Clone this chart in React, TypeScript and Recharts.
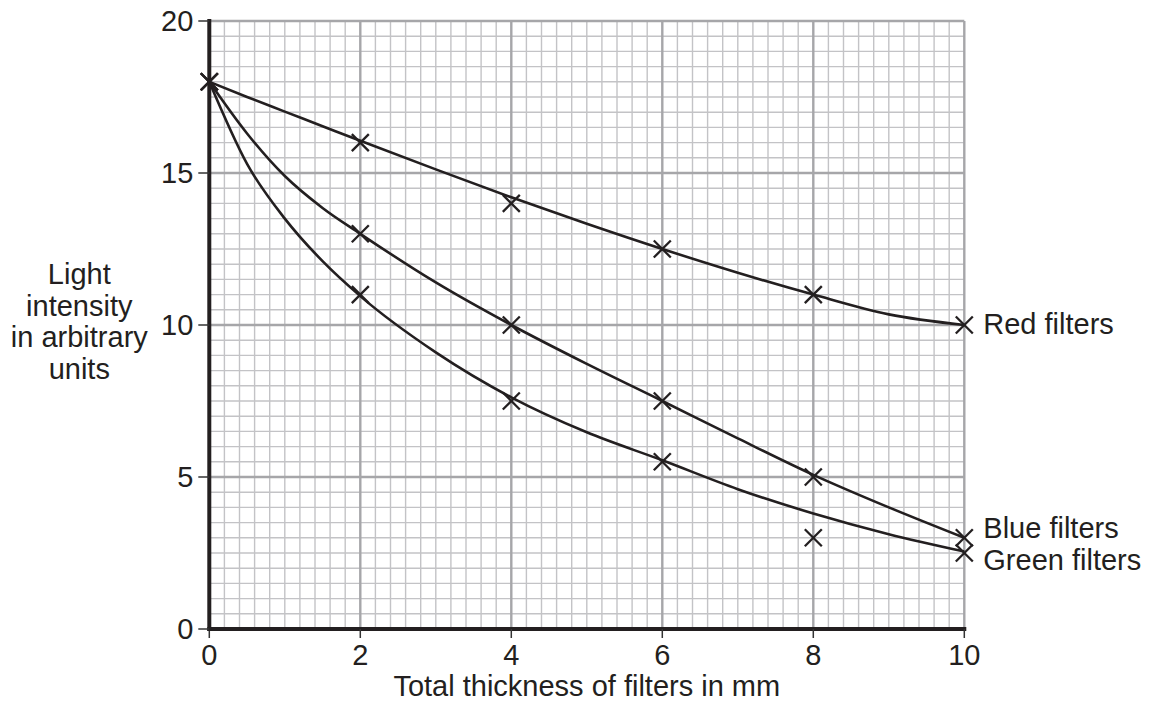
import React from 'react';
import { ComposedChart, Line, Scatter, XAxis, YAxis, ReferenceLine, ReferenceDot, Label } from 'recharts';

// Measured points (crosses)
const thicknessMm = [0, 2, 4, 6, 8, 10];
const redMeasured = [18, 16, 14, 12.5, 11, 10];
const blueMeasured = [18, 13, 10, 7.5, 5, 3];
const greenMeasured = [18, 11, 7.5, 5.5, 3, 2.5];

// Hand-drawn best-fit curves
const curveX = [0, 0.5, 1, 1.5, 2, 3, 4, 5, 6, 7, 8, 9, 10];
const redCurve = [18, 17.5, 17.02, 16.54, 16.06, 15.12, 14.2, 13.33, 12.5, 11.72, 11.0, 10.35, 10.0];
const blueCurve = [18, 16.3, 14.9, 13.85, 13.0, 11.4, 10.0, 8.72, 7.5, 6.27, 5.07, 4.0, 3.0];
const greenCurve = [18, 15.3, 13.5, 12.1, 10.95, 9.1, 7.62, 6.47, 5.55, 4.6, 3.8, 3.12, 2.55];

const xTicks = [0, 2, 4, 6, 8, 10];
const yTicks = [0, 5, 10, 15, 20];
const seriesLabels = ['Red filters', 'Blue filters', 'Green filters'];
const yTitleLines = ['Light', 'intensity', 'in arbitrary', 'units'];
const xTitle = 'Total thickness of filters in mm';

// grid positions (graph paper)
const minorX = Array.from({ length: 51 }, (_, i) => Math.round(i * 2) / 10).filter((v) => !xTicks.includes(v));
const minorY = Array.from({ length: 41 }, (_, i) => i / 2).filter((v) => !yTicks.includes(v));

const toPts = (xs: number[], ys: number[]) => xs.map((x, i) => ({ x, y: ys[i] }));

const redPts = toPts(thicknessMm, redMeasured);
const bluePts = toPts(thicknessMm, blueMeasured);
const greenPts = toPts(thicknessMm, greenMeasured);
const redLine = toPts(curveX, redCurve);
const blueLine = toPts(curveX, blueCurve);
const greenLine = toPts(curveX, greenCurve);

const INK = '#231f20';
const FONT = '"Liberation Sans", Arial, Helvetica, sans-serif';
const FS = 29;

const Cross = (props: any) => {
  const { cx, cy } = props;
  if (cx == null || cy == null) return null;
  const a = 8.5;
  return (
    <g>
      <line x1={cx - a} y1={cy - a} x2={cx + a} y2={cy + a} stroke={INK} strokeWidth={2.3} />
      <line x1={cx - a} y1={cy + a} x2={cx + a} y2={cy - a} stroke={INK} strokeWidth={2.3} />
    </g>
  );
};

const endLabel = (text: string, dy: number) => (props: any) => {
  const vb = props.viewBox || {};
  const x = (vb.x ?? 0) + (vb.width ?? 0) / 2 + 19;
  const y = (vb.y ?? 0) + (vb.height ?? 0) / 2 + dy;
  return (
    <text x={x} y={y} fill={INK} fontSize={FS} fontFamily={FONT} textAnchor="start">
      {text}
    </text>
  );
};

const YTitle = (props: any) => {
  const vb = props.viewBox || {};
  const cx = vb.x - 70;
  const cy = vb.y + vb.height / 2;
  return (
    <text fill={INK} fontSize={FS} fontFamily={FONT} textAnchor="middle">
      {yTitleLines.map((t, i) => (
        <tspan key={t} x={cx} y={cy - 41 + i * 31.7}>
          {t}
        </tspan>
      ))}
    </text>
  );
};

const XTitle = (props: any) => {
  const vb = props.viewBox || {};
  return (
    <text x={vb.x + vb.width / 2} y={vb.y + 67} fill={INK} fontSize={FS} fontFamily={FONT} textAnchor="middle">
      {xTitle}
    </text>
  );
};

export default function App() {
  const tickStyle = { fill: INK, fontSize: FS, fontFamily: FONT };
  return (
    <div style={{ position: 'absolute', left: 0, top: 0 }}>
      <ComposedChart
        width={1150}
        height={704}
        margin={{ top: 21, right: 185.7, bottom: 15, left: 149.3 }}
      >
        {minorX.map((v) => (
          <ReferenceLine key={'mx' + v} x={v} stroke="#c3c3c6" strokeWidth={1.4} zIndex={-90} />
        ))}
        {minorY.map((v) => (
          <ReferenceLine key={'my' + v} y={v} stroke="#c3c3c6" strokeWidth={1.4} zIndex={-90} />
        ))}
        {xTicks.map((v) => (
          <ReferenceLine key={'MX' + v} x={v} stroke="#a6a6a9" strokeWidth={2.4} zIndex={-80} />
        ))}
        {yTicks.map((v) => (
          <ReferenceLine key={'MY' + v} y={v} stroke="#a6a6a9" strokeWidth={2.4} zIndex={-80} />
        ))}
        <XAxis
          type="number"
          dataKey="x"
          domain={[0, 10]}
          ticks={xTicks}
          interval={0}
          height={60}
          tickSize={9}
          tickMargin={6}
          tick={tickStyle}
          tickLine={{ stroke: '#333', strokeWidth: 1.5 }}
          axisLine={{ stroke: INK, strokeWidth: 4, strokeLinecap: 'square' }}
        >
          <Label content={XTitle} />
        </XAxis>
        <YAxis
          type="number"
          dataKey="y"
          domain={[0, 20]}
          ticks={yTicks}
          interval={0}
          width={60}
          tickSize={11}
          tickMargin={5}
          tick={tickStyle}
          tickLine={{ stroke: '#333', strokeWidth: 1.5 }}
          axisLine={{ stroke: INK, strokeWidth: 4, strokeLinecap: 'square' }}
        >
          <Label content={YTitle} />
        </YAxis>
        <Line data={redLine} dataKey="y" type="monotone" stroke={INK} strokeWidth={2.6} dot={false} activeDot={false} isAnimationActive={false} />
        <Line data={blueLine} dataKey="y" type="monotone" stroke={INK} strokeWidth={2.6} dot={false} activeDot={false} isAnimationActive={false} />
        <Line data={greenLine} dataKey="y" type="monotone" stroke={INK} strokeWidth={2.6} dot={false} activeDot={false} isAnimationActive={false} />
        <Scatter data={redPts} dataKey="y" shape={<Cross />} isAnimationActive={false} />
        <Scatter data={bluePts} dataKey="y" shape={<Cross />} isAnimationActive={false} />
        <Scatter data={greenPts} dataKey="y" shape={<Cross />} isAnimationActive={false} />
        <ReferenceDot x={thicknessMm[5]} y={redMeasured[5]} r={0} fill="none" stroke="none" label={endLabel(seriesLabels[0], 9)} />
        <ReferenceDot x={thicknessMm[5]} y={blueMeasured[5]} r={0} fill="none" stroke="none" label={endLabel(seriesLabels[1], 0)} />
        <ReferenceDot x={thicknessMm[5]} y={greenMeasured[5]} r={0} fill="none" stroke="none" label={endLabel(seriesLabels[2], 17)} />
      </ComposedChart>
    </div>
  );
}
